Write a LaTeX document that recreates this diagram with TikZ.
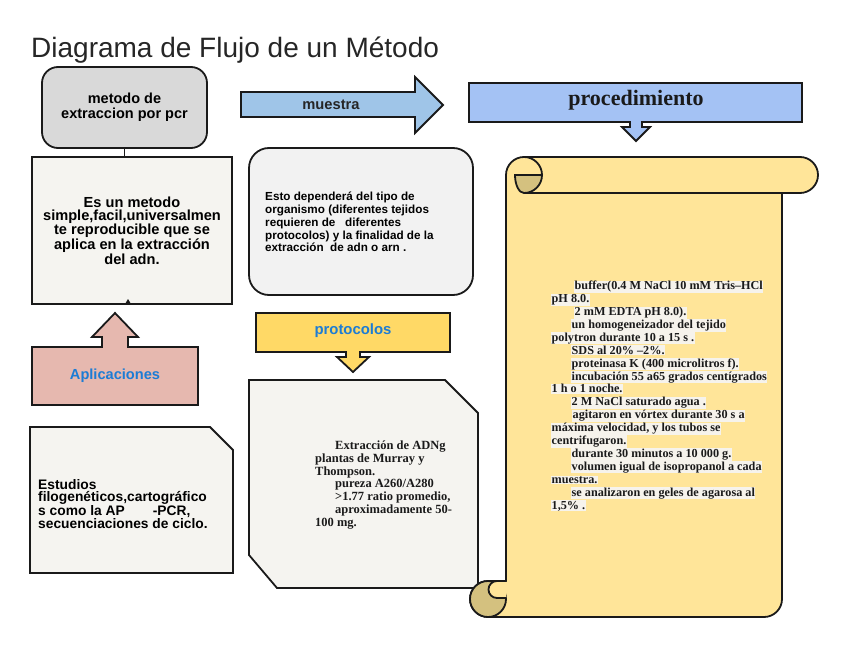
\documentclass[tikz,border=0pt]{standalone}
\usepackage{fontspec}
\setmainfont{Liberation Serif}
\setsansfont{Liberation Sans}
\usepackage{tikz}
\usetikzlibrary{calc, positioning}
\usepackage{xcolor}
\definecolor{edge}{RGB}{26, 26, 26}
\definecolor{titleInk}{RGB}{38, 38, 38}
\definecolor{boxGray}{RGB}{217, 217, 217}
\definecolor{boxPaper}{RGB}{245, 244, 240}
\definecolor{boxLight}{RGB}{242, 242, 242}
\definecolor{appPink}{RGB}{230, 184, 175}
\definecolor{sampleBlue}{RGB}{159, 197, 232}
\definecolor{procBlue}{RGB}{164, 194, 244}
\definecolor{protYellow}{RGB}{255, 217, 102}
\definecolor{scrollYellow}{RGB}{255, 229, 153}
\definecolor{scrollTan}{RGB}{212, 193, 127}
\definecolor{labelBlue}{RGB}{28, 124, 213}
\definecolor{hilite}{RGB}{246, 243, 236}
\newcommand{\hlt}[1]{{\setlength{\fboxsep}{0.5pt}\colorbox{hilite}{#1}}}

\begin{document}
\begin{tikzpicture}[x=1pt, y=-1pt, every node/.style={inner sep=0pt},
  shp/.style={draw=edge, line width=1.8pt},
  sanstxt/.style={font=\sffamily\bfseries, align=center},
  serif/.style={align=left, text=edge}]
  \useasboundingbox (0,0) rectangle (848,655);
  \node[anchor=base west, font=\sffamily\fontsize{28}{30}\selectfont, text=titleInk] (title) at (31,58) {Diagrama de Flujo de un Método};

  % left column
  \node[shp, fill=boxGray, rounded corners=16pt, minimum width=165pt, minimum height=81pt,
        sanstxt, font={\sffamily\bfseries\fontsize{14.5}{14.5}\selectfont}] (meth) at (124.5,107.5) {metodo de\\extraccion por pcr};
  \node[shp, fill=boxPaper, minimum width=200pt, minimum height=147pt,
        sanstxt, font={\sffamily\bfseries\fontsize{14.6}{13.2}\selectfont}] (simple) at (132,230.5)
        {Es un metodo\\simple,facil,universalmen\\te reproducible que se\\aplica en la extracción\\del adn.};
  \draw[line width=1pt, edge] (meth.south) -- (meth.south |- simple.north);
  \fill[edge] (125,304) -- (128,299) -- (131,304) -- cycle;
  \draw[shp, fill=appPink] (32,347) -- (102,347) -- (102,337) -- (92,337) -- (115,313) -- (138,337)
    -- (128,337) -- (128,347) -- (198,347) -- (198,405) -- (32,405) -- cycle;
  \node[font={\sffamily\bfseries\fontsize{14.6}{16}\selectfont}, text=labelBlue] (apl) at (115,376) {Aplicaciones};
  \draw[shp, fill=boxPaper] (30,427) -- (210,427) -- (233,450) -- (233,573) -- (30,573) -- cycle;
  \node[anchor=west, align=left, font={\sffamily\bfseries\fontsize{13.8}{12.8}\selectfont}] (uses) at (38,504)
    {Estudios\\filogenéticos,cartográfico\\s como la AP\hspace{28pt}-PCR,\\secuenciaciones de ciclo.};

  % middle column
  \draw[shp, fill=sampleBlue] (241,92) -- (415,92) -- (415,77) -- (443,105) -- (415,133) -- (415,117) -- (241,117) -- cycle;
  \node[font={\sffamily\bfseries\fontsize{14.7}{16}\selectfont}, text=titleInk] (sample) at (331,105) {muestra};
  \node[shp, fill=boxLight, rounded corners=20pt, minimum width=224pt, minimum height=147pt] (depends) at (361,221.5) {};
  \node[anchor=west, align=left, font={\sffamily\bfseries\fontsize{11.7}{12.8}\selectfont}] (dependstxt) at (265,222)
    {Esto dependerá del tipo de\\organismo (diferentes tejidos\\requieren de\ \ \ diferentes\\protocolos) y la finalidad de la\\extracción\ \ de adn o arn .};
  \draw[shp, fill=protYellow] (256,313) -- (450,313) -- (450,352) -- (360,352) -- (360,357) -- (369,357) -- (353,372)
    -- (337,357) -- (346,357) -- (346,352) -- (256,352) -- cycle;
  \node[font={\sffamily\bfseries\fontsize{14.9}{16}\selectfont}, text=labelBlue] (prot) at (353,331) {protocolos};
  \draw[shp, fill=boxPaper] (249,380) -- (445,380) -- (478,413) -- (478,588) -- (277,588) -- (249,555) -- cycle;
  \node[anchor=west, serif, font={\bfseries\fontsize{12.5}{12.8}\selectfont}] (dna) at (315,485)
    {\hspace{20pt}Extracción de ADNg\\plantas de Murray y\\Thompson.\\\hspace{20pt}pureza A260/A280\\
     \hspace{20pt}>1.77 ratio promedio,\\\hspace{20pt}aproximadamente 50-\\100 mg.};

  % right column
  \draw[shp, fill=procBlue] (469,83) -- (802,83) -- (802,122) -- (642,122) -- (642,127) -- (650,127) -- (636,141)
    -- (622,127) -- (630,127) -- (630,122) -- (469,122) -- cycle;
  \node[anchor=base, font={\bfseries\fontsize{22}{24}\selectfont}, text=edge] (proc) at (636,106) {procedimiento};
  \draw[shp, fill=scrollYellow] (506,175) arc[start angle=180, end angle=270, radius=18]
    -- (800,157) arc[start angle=270, end angle=450, radius=18]
    -- (782,193) -- (782,599) arc[start angle=0, end angle=90, radius=18]
    -- (488,617) arc[start angle=90, end angle=270, radius=18] -- (506,581) -- cycle;
  \draw[shp, fill=scrollTan] (542,175) -- (515,175) arc[start angle=180, end angle=90, x radius=9, y radius=18]
    arc[start angle=90, end angle=0, radius=18] -- cycle;
  \draw[shp] (524,157) arc[start angle=270, end angle=360, radius=18];
  \draw[shp] (524,193) -- (800,193);
  \draw[shp, fill=scrollTan] (488,599) circle[radius=18];
  \draw[shp, fill=scrollYellow] (506,581) -- (497,581) arc[start angle=270, end angle=90, radius=8.5] -- (506,598);
  \node[anchor=west, serif, font={\bfseries\fontsize{12.2}{12.9}\selectfont}] (steps) at (551,396)
    {\hspace{23pt}\hlt{buffer(0.4 M NaCl 10 mM Tris–HCl}\\\hlt{pH 8.0.}\\
     \hspace{23pt}\hlt{2 mM EDTA pH 8.0).}\\\hspace{20pt}\hlt{un homogeneizador del tejido}\\
     \hlt{polytron durante 10 a 15 s .}\\\hspace{20pt}\hlt{SDS al 20\% –2\%.}\\
     \hspace{20pt}\hlt{proteinasa K (400 microlitros f).}\\\hspace{20pt}\hlt{incubación 55 a65 grados centígrados}\\
     \hlt{1 h o 1 noche.}\\\hspace{20pt}\hlt{2 M NaCl saturado agua .}\\
     \hspace{21pt}\hlt{agitaron en vórtex durante 30 s a}\\\hlt{máxima velocidad, y los tubos se}\\
     \hlt{centrifugaron.}\\\hspace{20pt}\hlt{durante 30 minutos a 10 000 g.}\\
     \hspace{20pt}\hlt{volumen igual de isopropanol a cada}\\\hlt{muestra.}\\
     \hspace{20pt}\hlt{se analizaron en geles de agarosa al}\\\hlt{1,5\% .}};
\end{tikzpicture}
\end{document}
